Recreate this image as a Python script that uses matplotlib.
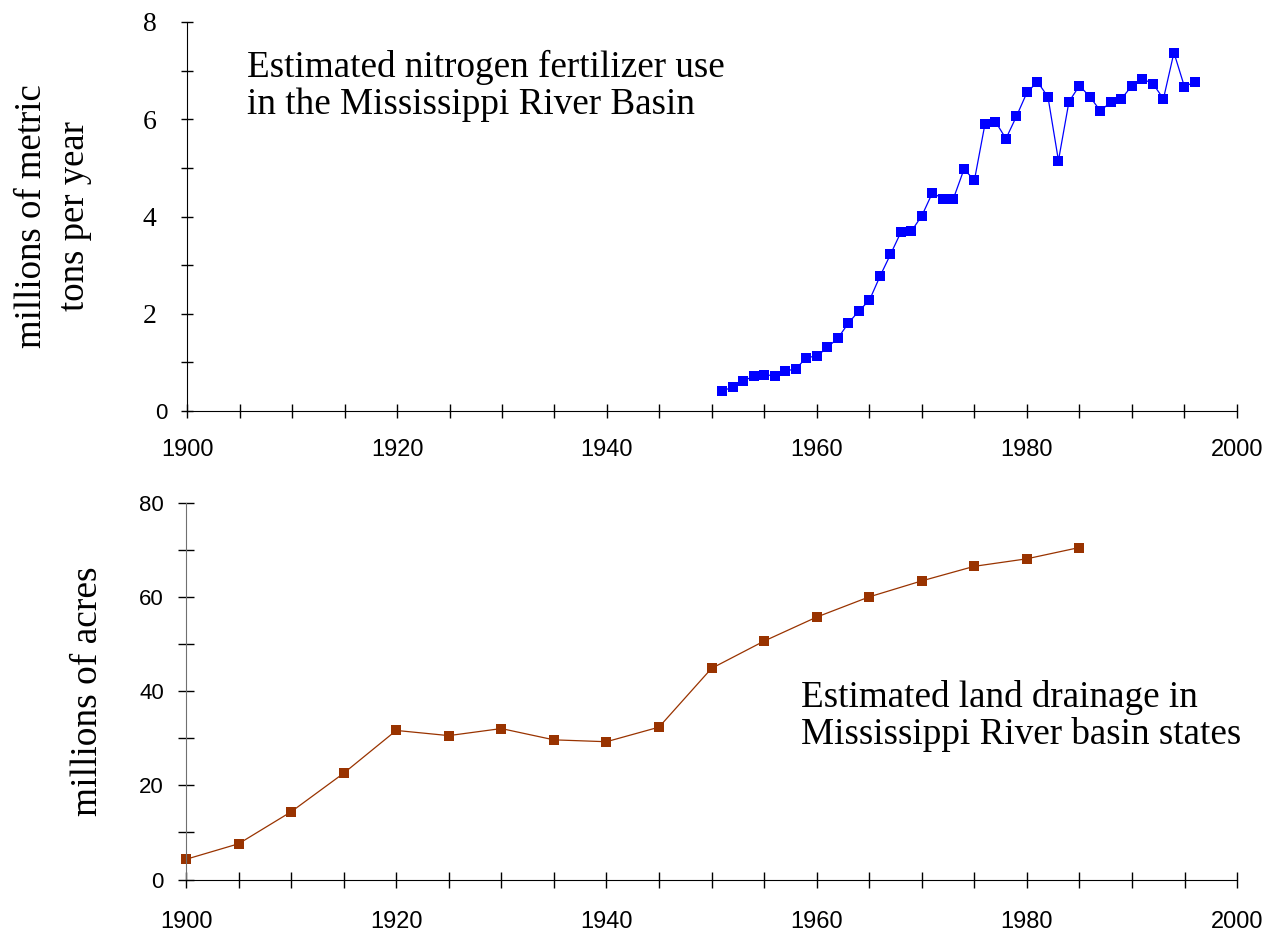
import matplotlib
matplotlib.use("Agg")
import matplotlib.pyplot as plt
from matplotlib.ticker import MultipleLocator

# nitrogen fertilizer use, millions of metric tons per year
fert_years = [1951, 1952, 1953, 1954, 1955, 1956, 1957, 1958, 1959, 1960,
              1961, 1962, 1963, 1964, 1965, 1966, 1967, 1968, 1969, 1970,
              1971, 1972, 1973, 1974, 1975, 1976, 1977, 1978, 1979, 1980,
              1981, 1982, 1983, 1984, 1985, 1986, 1987, 1988, 1989, 1990,
              1991, 1992, 1993, 1994, 1995, 1996]
fert_values = [0.41, 0.50, 0.62, 0.72, 0.75, 0.72, 0.82, 0.87, 1.10, 1.13,
               1.31, 1.50, 1.81, 2.06, 2.28, 2.77, 3.22, 3.68, 3.70, 4.02,
               4.49, 4.36, 4.37, 4.97, 4.75, 5.90, 5.95, 5.60, 6.06, 6.55,
               6.77, 6.46, 5.15, 6.36, 6.69, 6.46, 6.17, 6.36, 6.42, 6.69,
               6.83, 6.73, 6.42, 7.37, 6.67, 6.77]

# land drainage, millions of acres
drain_years = [1900, 1905, 1910, 1915, 1920, 1925, 1930, 1935, 1940,
               1945, 1950, 1955, 1960, 1965, 1970, 1975, 1980, 1985]
drain_values = [4.3, 7.6, 14.4, 22.6, 31.7, 30.6, 32.1, 29.7, 29.3,
                32.4, 44.9, 50.7, 55.8, 60.1, 63.5, 66.6, 68.2, 70.6]

fert_text = "Estimated nitrogen fertilizer use\nin the Mississippi River Basin"
drain_text = "Estimated land drainage in\nMississippi River basin states"

serif = "Liberation Serif"
sans = "Liberation Sans"

fig = plt.figure(figsize=(12.68, 9.31), dpi=100)
ax1 = fig.add_axes([0.1475, 0.5585, 0.828, 0.4179])
ax2 = fig.add_axes([0.1467, 0.0553, 0.8289, 0.4041])

for ax in (ax1, ax2):
    ax.spines["top"].set_visible(False)
    ax.spines["right"].set_visible(False)
    ax.set_xlim(1900, 2000)
    ax.xaxis.set_major_locator(MultipleLocator(20))
    ax.xaxis.set_minor_locator(MultipleLocator(5))

# top panel
ax1.plot(fert_years, fert_values, color="#0000ff", lw=0.9, marker="s",
         ms=6.8, mew=0, clip_on=False)
ax1.set_ylim(0, 8)
ax1.yaxis.set_major_locator(MultipleLocator(2))
ax1.yaxis.set_minor_locator(MultipleLocator(1))
ax1.tick_params(axis="y", which="both", direction="inout", length=8, width=1,
                pad=18, labelsize=20, labelfontfamily=serif)
ax1.tick_params(axis="x", which="both", direction="inout", length=10, width=1,
                pad=15, labelsize=17, labelfontfamily=sans)
ax1.set_ylabel("millions of metric\ntons per year", family=serif,
               fontsize=26.5, va="center", linespacing=1.3)
ax1.yaxis.set_label_coords(-0.1276, 0.5)
ax1.text(0.0571, 0.7635, fert_text, transform=ax1.transAxes, family=serif,
         fontsize=26.7, ha="left", va="baseline", linespacing=1.1)

# bottom panel
ax2.plot(drain_years, drain_values, color="#993300", lw=0.9, marker="s",
         ms=6.6, mew=0, clip_on=False)
ax2.set_ylim(0, 80)
ax2.yaxis.set_major_locator(MultipleLocator(20))
ax2.yaxis.set_minor_locator(MultipleLocator(10))
ax2.tick_params(axis="both", which="both", direction="inout", length=12,
                width=1, labelfontfamily=sans)
ax2.tick_params(axis="y", pad=10, labelsize=16)
ax2.tick_params(axis="x", pad=17, labelsize=17)
ax2.spines["left"].set_color("#707070")
ax2.set_ylabel("millions of acres", family=serif, fontsize=27, va="center")
ax2.yaxis.set_label_coords(-0.0937, 0.5)
ax2.text(0.585, 0.359, drain_text, transform=ax2.transAxes, family=serif,
         fontsize=26.7, ha="left", va="baseline", linespacing=1.08)

# the zero label on the top panel is in the sans face, like the x labels
fig.canvas.draw()
for tick in ax1.yaxis.get_major_ticks():
    if tick.label1.get_text() == "0":
        tick.label1.set_family(sans)
        tick.label1.set_fontsize(16)
        tick.set_pad(10)

fig.savefig("out.png", dpi=100)
